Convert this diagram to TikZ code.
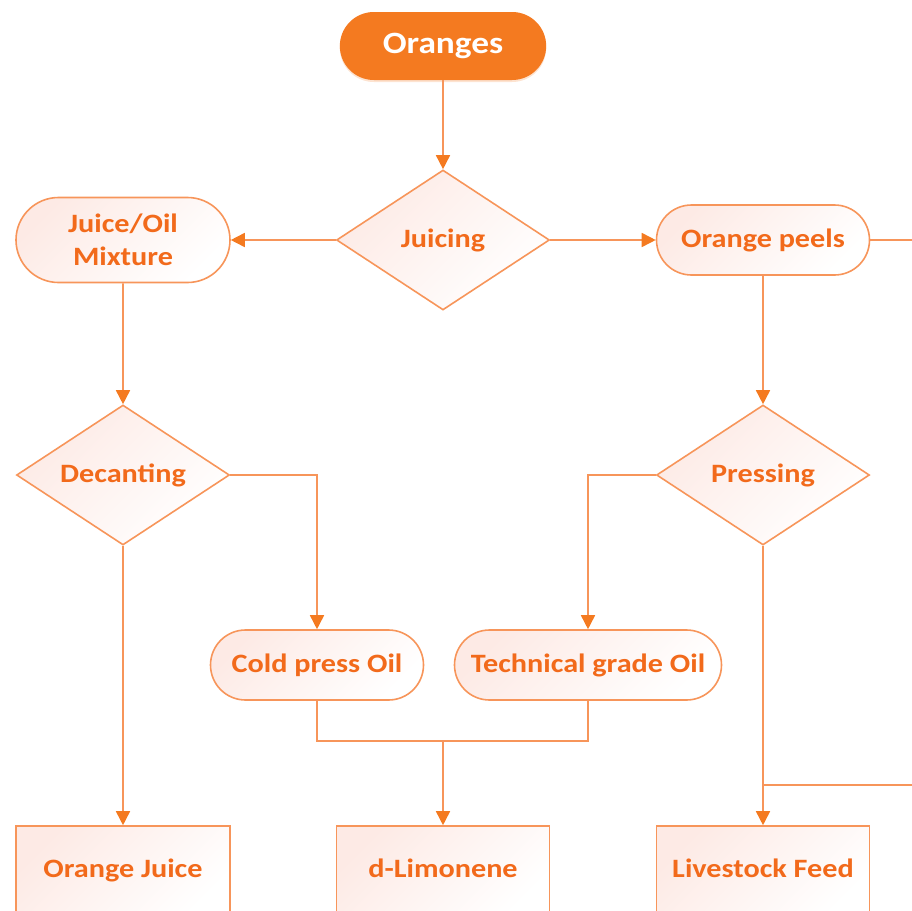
\documentclass[tikz,border=0pt]{standalone}
\usepackage{fontspec}
\setmainfont{Carlito}[FakeStretch=1.14]
\usetikzlibrary{shapes.geometric,shapes.misc,arrows.meta,shadows}
\definecolor{orangeF}{HTML}{F47A20}
\definecolor{lineC}{HTML}{F7955A}
\definecolor{tipC}{HTML}{F47A20}
\definecolor{textC}{HTML}{F26A1B}
\definecolor{tintC}{HTML}{FDEAE5}
\begin{document}
\begin{tikzpicture}[x=1pt,y=-1pt,
  base/.style={draw=lineC, line width=1.6pt, top color=tintC, bottom color=white, shading angle=45,
    text=textC, font=\bfseries\fontsize{26.5}{33}\selectfont, align=center, inner sep=0pt},
  pill/.style={base, rounded rectangle, minimum height=70pt},
  dia/.style={base, diamond, aspect=1.52, minimum width=213pt, minimum height=140pt},
  endbox/.style={base, rectangle, minimum width=214pt, minimum height=92pt},
  ln/.style={draw=lineC, line width=1.6pt},
  arr/.style={ln, -{Triangle[length=14pt,width=14pt,color=tipC]}},
  start/.style={rounded rectangle, fill=orangeF, draw=none, minimum width=213pt, minimum height=68pt,
    text=white, font=\bfseries\fontsize{31}{36}\selectfont,
    drop shadow={shadow xshift=0pt, shadow yshift=-2pt, fill=orangeF!35, opacity=0.6}}
]
\useasboundingbox (0,0) rectangle (912,910);

\node[start] (oranges) at (443,46) {Oranges};
\node[dia] (juicing) at (443,240) {Juicing};
\node[pill, minimum width=214pt, minimum height=85pt] (mix) at (123,240) {Juice/Oil\\Mixture};
\node[pill, minimum width=213pt] (peels) at (763,240) {Orange peels};
\node[dia] (dec) at (123,475) {Decanting};
\node[dia] (press) at (763,475) {Pressing};
\node[pill, minimum width=213pt] (cold) at (317,665) {Cold press Oil};
\node[pill, minimum width=267pt] (tech) at (588,665) {Technical grade Oil};
\node[endbox] (oj) at (123,872) {\raisebox{7pt}{Orange Juice}};
\node[endbox, minimum width=213pt] (lim) at (443,872) {\raisebox{7pt}{d-Limonene}};
\node[endbox, minimum width=213pt] (feed) at (763,872) {\raisebox{7pt}{Livestock Feed}};

\coordinate (offA) at (916,240);
\coordinate (offB) at (916,785);
\coordinate (feedJ) at (763,785);
\coordinate (join) at (443,741);

\draw[arr] (oranges) -- (juicing);
\draw[arr] (juicing.west) -- (mix.east);
\draw[arr] (juicing.east) -- (peels.west);
\draw[ln] (peels.east) -- (offA);
\draw[arr] (mix) -- (dec);
\draw[arr] (peels) -- (press);
\draw[arr] (dec.east) -| (cold.north);
\draw[arr] (press.west) -| (tech.north);
\draw[arr] (dec) -- (oj);
\draw[arr] (press) -- (feed);
\draw[ln] (cold.south) |- (join);
\draw[ln] (tech.south) |- (join);
\draw[arr] (join) -- (lim);
\draw[ln] (offB) -- (feedJ);
\end{tikzpicture}
\end{document}
